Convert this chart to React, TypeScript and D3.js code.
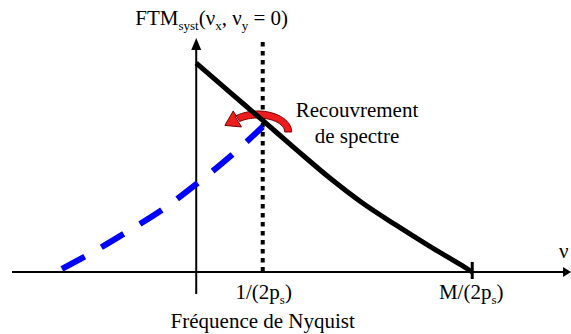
import React from "react";
import * as d3 from "d3";

// Normalised MTF of the system (black) and the aliased copy folded about Nyquist (blue)
const ftmNu = [0, 0.5, 1, 1.5, 2, 2.5, 3, 3.5, 4, 4.15];
const ftmVal = [1, 0.862, 0.725, 0.587, 0.452, 0.33, 0.225, 0.125, 0.03, 0];
const aliasNu = [-2.02, -1.5, -1.0, -0.5, 0, 0.5, 1.0];
const aliasVal = [0.015, 0.105, 0.2, 0.3, 0.42, 0.55, 0.695];
const nyquist = 1;
const cutoff = 4.15;
const tickLabels = ["1/(2p", "M/(2p"];

const W = 571;
const H = 334;
const font = "'Liberation Serif', 'Times New Roman', Times, serif";
const fs = 21;
const sub = 13;

const App: React.FC = () => {
  const x = d3.scaleLinear().domain([-2.77, 5.62]).range([12, 570]);
  const y = d3.scaleLinear().domain([0, 1]).range([272, 63]);

  const line = d3
    .line<[number, number]>()
    .x((d) => x(d[0]))
    .y((d) => y(d[1]))
    .curve(d3.curveMonotoneX);

  const ftmPts = ftmNu.map((n, i) => [n, ftmVal[i]] as [number, number]);
  const aliasPts = aliasNu.map((n, i) => [n, aliasVal[i]] as [number, number]);

  const x0 = x(0);
  const y0 = y(0);
  const xn = x(nyquist);
  const xc = x(cutoff);

  // red curved arrow around the overlap point
  const cx = xn - 5;
  const cy = y(0.67);
  const arc = (rx: number, ry: number, a: number) =>
    [cx + rx * Math.cos(a), cy - ry * Math.sin(a)] as [number, number];
  const a1 = (132 * Math.PI) / 180;
  const outer = d3.range(0, 31).map((i) => arc(34, 21, (a1 * i) / 30));
  const inner = d3.range(0, 31).map((i) => arc(27, 14, (a1 * (30 - i)) / 30));
  const mid = arc(30.5, 17.5, a1);
  let tx = -30.5 * Math.sin(a1);
  let ty = 17.5 * -Math.cos(a1);
  const tl = Math.hypot(tx, ty);
  tx /= tl;
  ty /= tl;
  const nx = -ty;
  const ny = tx;
  const wingO: [number, number] = [mid[0] - nx * 9, mid[1] - ny * 9];
  const wingI: [number, number] = [mid[0] + nx * 9, mid[1] + ny * 9];
  const tip: [number, number] = [mid[0] + tx * 14, mid[1] + ty * 14];
  const arrowPts = [...outer, wingO, tip, wingI, ...inner];
  const arrowPath = "M" + arrowPts.map((p) => p.join(",")).join("L") + "Z";

  return (
    <svg
      width={W}
      height={H}
      style={{ position: "absolute", left: 0, top: 0, background: "#fff", fontFamily: font }}
    >
      {/* axes */}
      <line x1={12} x2={566} y1={y0} y2={y0} stroke="#000" strokeWidth={2} />
      <path d={`M571,${y0}L563,${y0 - 5}L563,${y0 + 5}Z`} fill="#000" />
      <line x1={x0} x2={x0} y1={294} y2={46} stroke="#000" strokeWidth={2} />
      <path d={`M${x0},38L${x0 - 5},50L${x0 + 5},50Z`} fill="#000" />
      <line x1={xc} x2={xc} y1={y0 - 10} y2={y0 + 7} stroke="#000" strokeWidth={3} />

      {/* Nyquist dotted line */}
      <line
        x1={xn}
        x2={xn}
        y1={42}
        y2={y0}
        stroke="#000"
        strokeWidth={4}
        strokeDasharray="4.5 4.5"
      />

      {/* aliased spectrum */}
      <path
        d={line(aliasPts) || ""}
        fill="none"
        stroke="#0000ff"
        strokeWidth={6}
        strokeDasharray="26 19"
      />

      {/* recouvrement arrow */}
      <path d={arrowPath} fill="#ee1c1c" stroke="#7a0000" strokeWidth={1} />

      {/* system MTF */}
      <path d={line(ftmPts) || ""} fill="none" stroke="#000" strokeWidth={5} />

      {/* texts */}
      <text x={288} y={25} textAnchor="end" fontSize={fs}>
        FTM
        <tspan fontSize={sub} dy={5}>syst</tspan>
        <tspan dy={-5}>(ν</tspan>
        <tspan fontSize={sub} dy={5}>x</tspan>
        <tspan dy={-5}>, ν</tspan>
        <tspan fontSize={sub} dy={5}>y</tspan>
        <tspan dy={-5}> = 0)</tspan>
      </text>
      <text x={357} y={117} textAnchor="middle" fontSize={fs}>
        Recouvrement
      </text>
      <text x={357} y={143} textAnchor="middle" fontSize={fs}>
        de spectre
      </text>
      {[xn + 1, xc - 1].map((px, i) => (
        <text key={i} x={px} y={299} textAnchor="middle" fontSize={fs}>
          {tickLabels[i]}
          <tspan fontSize={sub} dy={5}>s</tspan>
          <tspan dy={-5}>)</tspan>
        </text>
      ))}
      <text x={xn} y={328} textAnchor="middle" fontSize={fs}>
        Fréquence de Nyquist
      </text>
      <text x={559} y={258} fontSize={fs}>
        ν
      </text>
    </svg>
  );
};

export default App;
